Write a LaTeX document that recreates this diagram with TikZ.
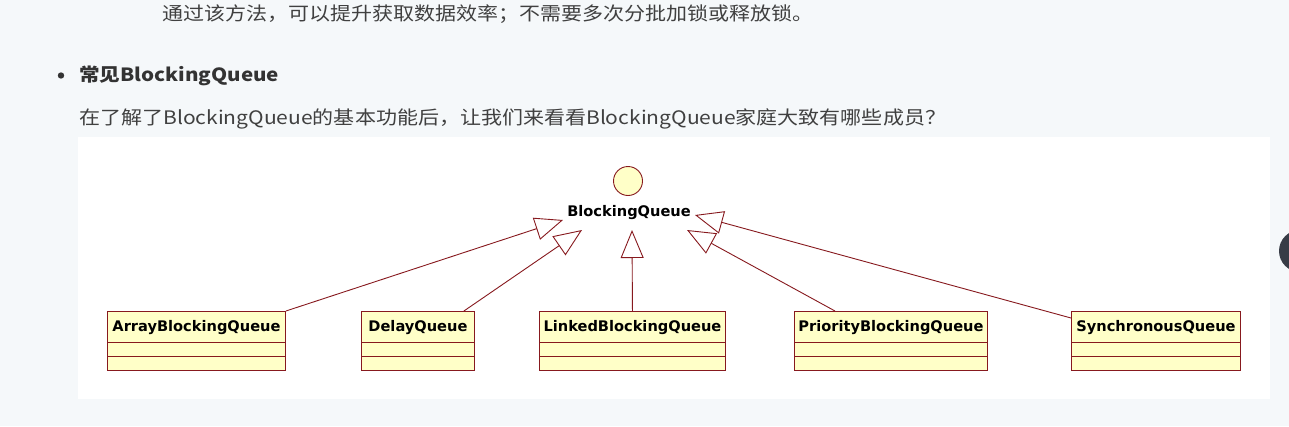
\documentclass[tikz,border=0pt]{standalone}
\usepackage{fontspec}
\usetikzlibrary{arrows.meta}
\newfontfamily\cjk[FakeStretch=1.13]{Noto Sans CJK SC}
\newfontfamily\umlfont{DejaVu Sans}
\definecolor{pagebg}{RGB}{245,248,250}
\definecolor{umlred}{RGB}{135,25,30}
\definecolor{umlfill}{RGB}{255,255,200}
\definecolor{bodytext}{RGB}{64,64,64}
\definecolor{headtext}{RGB}{51,51,51}
\definecolor{knob}{RGB}{55,60,70}
\tikzset{
  umlline/.style={draw=umlred, line width=0.9pt},
  umlbox/.style={rectangle, draw=umlred, fill=umlfill, line width=0.9pt, minimum height=59pt, inner sep=0pt, anchor=north west},
  umltext/.style={font=\umlfont\bfseries\fontsize{14.6}{15}\selectfont, text=black, inner sep=0pt},
  realize/.style={umlline, -{Triangle[open, length=28pt, width=23pt, line width=0.9pt]}},
  bodyline/.style={font=\cjk\fontsize{18.6}{21}\selectfont, text=bodytext, inner sep=0pt, anchor=base west},
}
\newcommand\umlclass[4]{%
  \node[umlbox, minimum width=#3pt-#2pt] (#1) at (#2,311) {};
  \node[umltext] (#1t) at ([yshift=-17pt]#1.north) {#4};
  \draw[umlline] ([yshift=-31pt]#1.north west) -- ([yshift=-31pt]#1.north east);
  \draw[umlline] ([yshift=-45pt]#1.north west) -- ([yshift=-45pt]#1.north east);
}
\begin{document}
\begin{tikzpicture}[x=1pt,y=-1pt]
\useasboundingbox (0,0) rectangle (1289,426);
\fill[pagebg] (0,0) rectangle (1289,426);
\fill[white] (78,137) rectangle (1270,399);
\begin{scope}
  \clip (0,0) rectangle (1289,426);
  \fill[knob] (1300,251) circle (21);
\end{scope}

% text above
\node[bodyline] (line1) at (162,20) {通过该方法，可以提升获取数据效率；不需要多次分批加锁或释放锁。};
\fill[headtext] (61,75.5) circle (3.2);
\node[bodyline, text=headtext, font=\cjk\bfseries\fontsize{18.2}{21}\selectfont] (head) at (79,81) {常见BlockingQueue};
\node[bodyline] (line3) at (79,124) {在了解了BlockingQueue的基本功能后，让我们来看看BlockingQueue家庭大致有哪些成员？};

% interface
\node[circle, draw=umlred, fill=umlfill, line width=0.9pt, minimum size=29pt, inner sep=0pt] (iface) at (628,181) {};
\node[umltext] (bq) at (629,213) {BlockingQueue};

% classes
\umlclass{b1}{107}{285}{ArrayBlockingQueue}
\umlclass{b2}{361}{474}{DelayQueue}
\umlclass{b3}{539}{725}{LinkedBlockingQueue}
\umlclass{b4}{794}{987}{PriorityBlockingQueue}
\umlclass{b5}{1071}{1240}{SynchronousQueue}

% arrow tips
\coordinate (t1) at (563,220);
\coordinate (t2) at (582,230);
\coordinate (t3) at (632,230);
\coordinate (t4) at (687,230);
\coordinate (t5) at (695,215);

\draw[realize] (b1.north east) -- (t1);
\draw[realize] ([xshift=-11pt]b2.north east) -- (t2);
\draw[realize] (b3.north) -- (t3);
\draw[realize] ([xshift=41pt]b4.north west) -- (t4);
\draw[realize] ([yshift=-7pt]b5.north west) -- (t5);
\end{tikzpicture}
\end{document}
